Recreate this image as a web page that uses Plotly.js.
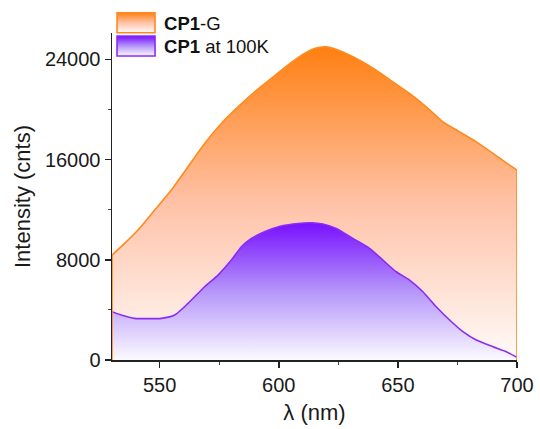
<!DOCTYPE html>
<html>
<head>
<meta charset="utf-8">
<script src="https://cdn.plot.ly/plotly-3.0.1.min.js"></script>
<style>html,body{margin:0;padding:0;background:#fff;}#chart{width:540px;height:429px;}</style>
</head>
<body>
<div id="chart"></div>
<script>
// CP1-G emission spectrum (orange)
const wlG = [530, 535.3, 540.9, 547.9, 554.9, 561.9, 568.9, 575.9, 582.9, 589.9, 596.9, 603.8, 610.8, 615, 620, 626.9, 633.9, 640.9, 647.9, 654.9, 661.9, 668.9, 675.9, 682.9, 689.9, 696.9, 700];
const intG = [8375, 9306, 10370, 11964, 13560, 15418, 17284, 18880, 20200, 21400, 22470, 23530, 24460, 24860, 24990, 24590, 23930, 23130, 22200, 21270, 20200, 19010, 18210, 17410, 16490, 15550, 15150];
// CP1 at 100K emission spectrum (purple)
const wlP = [530, 533.9, 539.5, 545, 550.7, 556.3, 561.9, 568.9, 574.5, 580.1, 584.3, 588.5, 594, 601, 608, 614, 618.5, 624.1, 631.1, 638.1, 643.7, 649.3, 654.9, 660.5, 666.1, 671.7, 677.3, 682.9, 689.9, 695.5, 700];
const intP = [3850, 3590, 3325, 3300, 3325, 3590, 4520, 5850, 6780, 7976, 9040, 9700, 10230, 10690, 10900, 10950, 10850, 10500, 9700, 8910, 7976, 7043, 6380, 5450, 4250, 3190, 2260, 1595, 1060, 660, 215];
const names = ['<b>CP1</b>-G', '<b>CP1</b> at 100K'];
const xTicks = [550, 600, 650, 700];
const yTicks = [0, 8000, 16000, 24000];

const font = 'Arial, "Liberation Sans", sans-serif';
const orange = '#FF8A1C', purple = '#8C2BF5';
const gradG = [[0, '#FFFBF9'], [0.5, '#FFC2A8'], [1, '#FF7F10']];
const gradP = [[0, '#FBFAFF'], [0.5, '#B596FA'], [1, '#7810FF']];
const nG = wlG.length;
const traces = [
  {
    x: wlG, y: intG, name: names[0], type: 'scatter', mode: 'lines',
    fill: 'tozeroy', line: {color: orange, width: 1.6, shape: 'spline', smoothing: 0.6},
    fillgradient: {type: 'vertical', start: 0, colorscale: gradG}
  },
  {
    x: wlP, y: intP, name: names[1], type: 'scatter', mode: 'lines',
    fill: 'tozeroy', line: {color: purple, width: 1.6, shape: 'spline', smoothing: 0.6},
    fillgradient: {type: 'vertical', start: 0, colorscale: gradP}
  },
  // closing vertical edges of the orange band
  {x: [wlG[0], wlG[0]], y: [0, intG[0]], mode: 'lines', type: 'scatter', showlegend: false,
   line: {color: orange, width: 1.6}, hoverinfo: 'skip'},
  {x: [wlG[nG - 1], wlG[nG - 1]], y: [0, intG[nG - 1]], mode: 'lines', type: 'scatter', showlegend: false,
   line: {color: orange, width: 1.6}, hoverinfo: 'skip'}
];
const layout = {
  width: 540, height: 429,
  margin: {l: 112, r: 23, t: 33, b: 69, autoexpand: false},
  paper_bgcolor: '#fff', plot_bgcolor: '#fff',
  font: {family: font, size: 20, color: '#1a1a1a'},
  showlegend: true,
  legend: {
    x: 0.005, y: 1.088, xanchor: 'left', yanchor: 'top',
    bgcolor: 'rgba(0,0,0,0)', font: {family: font, size: 18.5, color: '#111'},
    itemwidth: 40, tracegroupgap: 0, traceorder: 'normal'
  },
  xaxis: {
    range: [530, 700], tickvals: xTicks, ticktext: xTicks.map(String),
    ticks: 'outside', ticklen: 6, tickwidth: 1.5, tickcolor: '#222',
    minor: {dtick: 25, tick0: 525, ticks: 'outside', ticklen: 3, tickwidth: 1, tickcolor: '#444'},
    showline: true, linecolor: '#222', linewidth: 1.5, showgrid: false, zeroline: false,
    tickfont: {family: font, size: 20, color: '#1a1a1a'},
    title: {text: 'λ (nm)', font: {family: font, size: 22, color: '#1a1a1a'}, standoff: 10}
  },
  yaxis: {
    range: [0, 26100], tickvals: yTicks, ticktext: yTicks.map(String),
    ticks: 'outside', ticklen: 6, tickwidth: 1.5, tickcolor: '#222',
    minor: {dtick: 4000, tick0: 0, ticks: 'outside', ticklen: 3, tickwidth: 1, tickcolor: '#444'},
    showline: true, linecolor: '#222', linewidth: 1.5, showgrid: false, zeroline: false,
    tickfont: {family: font, size: 20, color: '#1a1a1a'},
    title: {text: 'Intensity (cnts)', font: {family: font, size: 22, color: '#1a1a1a'}, standoff: 8}
  }
};
Plotly.newPlot('chart', traces, layout, {displayModeBar: false, staticPlot: true}).then(function (gd) {
  // reshape legend symbols into boxes like the reference
  const box = 'M3,-10h38v20h-38z';
  const items = gd.querySelectorAll('.legend .traces');
  let y0 = null;
  items.forEach(function (t, i) {
    const f = t.querySelector('path.js-fill');
    const l = t.querySelector('path.js-line');
    if (f) f.setAttribute('d', box);
    if (l) { l.setAttribute('d', box); l.style.fill = 'none'; l.style.strokeWidth = '1.6px'; }
    const m = /translate\(([-\d.]+)[ ,]+([-\d.]+)\)/.exec(t.getAttribute('transform') || '');
    if (m) {
      if (y0 === null) y0 = parseFloat(m[2]);
      t.setAttribute('transform', 'translate(' + m[1] + ',' + (y0 + 23.3 * i) + ')');
    }
  });
});
</script>
</body>
</html>
